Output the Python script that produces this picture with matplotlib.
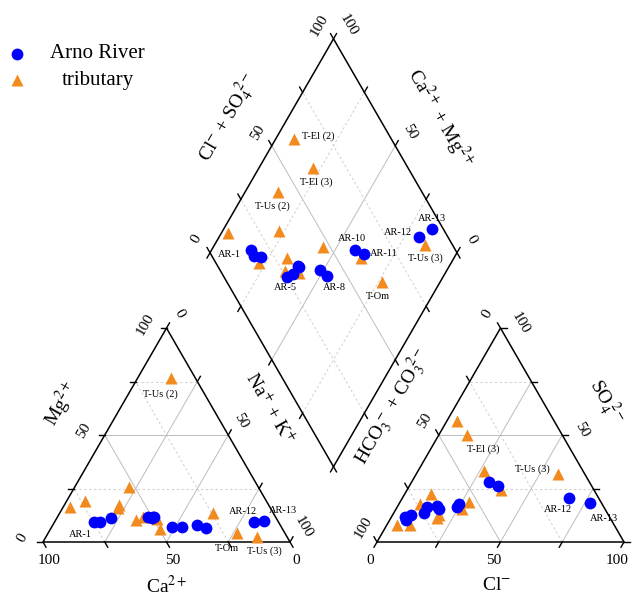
import numpy as np
import matplotlib
matplotlib.use("Agg")
import matplotlib.pyplot as plt

plt.rcParams['font.family'] = ['Liberation Serif', 'DejaVu Serif']
plt.rcParams['mathtext.fontset'] = 'stix'

# ---------------- data (meq %) ----------------
arno_names = ['AR-1', 'AR-2', 'AR-3', 'AR-4', 'AR-5', 'AR-6', 'AR-7', 'AR-8',
              'AR-9', 'AR-10', 'AR-11', 'AR-12', 'AR-13']
arno_ca = [74.5, 72.3, 67.0, 51.5, 50.4, 49.0, 44.3, 40.1, 49.7, 33.9, 30.7, 9.7, 5.5]
arno_mg = [9.5, 9.2, 11.2, 11.6, 11.2, 11.8, 7.2, 6.9, 11.5, 7.8, 6.7, 9.5, 10.0]
arno_nak = [16.0, 18.5, 21.8, 36.9, 38.4, 39.2, 48.5, 53.0, 38.8, 58.3, 62.6, 80.8, 84.5]
arno_hco3 = [82.8, 83.2, 80.1, 74.3, 71.5, 67.3, 59.5, 58.0, 67.2, 40.6, 37.8, 11.9, 4.5]
arno_so4 = [11.8, 10.3, 12.6, 13.4, 16.2, 17.0, 16.5, 17.8, 15.4, 28.2, 26.2, 20.7, 18.4]
arno_cl = [5.4, 6.5, 7.3, 12.3, 12.3, 15.7, 24.0, 24.2, 17.4, 31.2, 36.0, 67.4, 77.1]

trib_names = ['T-El (2)', 'T-El (3)', 'T-Us (2)', 'T-4', 'T-5', 'T-6', 'T-7', 'T-8',
              'T-9', 'T-10', 'T-11', 'T-Om', 'T-Us (3)']
trib_ca = [73.4, 60.4, 10.1, 80.8, 61.6, 52.1, 57.3, 53.8, 48.7, 49.5, 24.3, 19.5, 12.2]
trib_mg = [19.2, 17.4, 76.5, 16.5, 15.8, 25.9, 10.3, 11.6, 10.6, 6.2, 13.4, 4.1, 2.5]
trib_nak = [7.4, 22.2, 13.4, 2.7, 22.6, 22.0, 32.4, 34.6, 40.7, 44.3, 62.3, 76.4, 85.3]
trib_hco3 = [39.4, 38.4, 58.0, 88.1, 67.0, 82.7, 70.0, 73.7, 68.6, 53.2, 40.0, 37.5, 10.9]
trib_so4 = [56.6, 50.0, 15.3, 7.8, 22.3, 7.8, 11.1, 17.8, 12.6, 18.8, 33.3, 24.3, 31.8]
trib_cl = [4.0, 11.6, 26.7, 4.1, 10.7, 9.5, 18.9, 8.5, 18.8, 28.0, 26.7, 38.2, 57.3]

tick_values = [0, 50, 100]

# ---------------- geometry ----------------
S3 = np.sqrt(3) / 2
G = 87 / 247.0            # gap between the triangles
OX = 1 + G                # origin of anion triangle
B = np.array([(2 + G) / 2, G * S3])   # bottom vertex of diamond
U = np.array([-0.5, S3])
V = np.array([0.5, S3])


def cat_xy(ca, mg, nak):
    ca, mg, nak = map(np.asarray, (ca, mg, nak))
    t = ca + mg + nak
    return (nak + 0.5 * mg) / t, S3 * mg / t


def an_xy(hco3, so4, cl):
    hco3, so4, cl = map(np.asarray, (hco3, so4, cl))
    t = hco3 + so4 + cl
    return OX + (cl + 0.5 * so4) / t, S3 * so4 / t


def dia_xy(ca, mg, nak, hco3, so4, cl):
    ca, mg, nak, hco3, so4, cl = map(np.asarray, (ca, mg, nak, hco3, so4, cl))
    c = (ca + mg) / (ca + mg + nak)
    s = (so4 + cl) / (hco3 + so4 + cl)
    return B[0] + c * U[0] + s * V[0], B[1] + c * U[1] + s * V[1]


fig = plt.figure(figsize=(6.4, 5.98), dpi=100)
ax = fig.add_axes([0, 0, 1, 1])
ax.set_xlim(-43 / 247, 597 / 247)
ax.set_ylim(-56 / 247, 542 / 247)
ax.axis('off')

EDGE = dict(color='black', lw=1.1, solid_capstyle='butt', zorder=3)
GS = dict(color='#bdbdbd', lw=0.7, zorder=1)
GD = dict(color='#cfcfcf', lw=0.7, ls=(0, (2.5, 2.5)), zorder=1)
TL = 6 / 247.0


def seg(p, q, **kw):
    ax.plot([p[0], q[0]], [p[1], q[1]], **kw)


# outlines
P0, P1, P2 = np.array([0, 0]), np.array([1, 0]), np.array([0.5, S3])
Q0, Q1, Q2 = np.array([OX, 0]), np.array([OX + 1, 0]), np.array([OX + 0.5, S3])
L, R, T = B + U, B + V, B + U + V
for a, b in [(P0, P1), (P1, P2), (P2, P0), (Q0, Q1), (Q1, Q2), (Q2, Q0),
             (B, L), (L, T), (T, R), (R, B)]:
    seg(a, b, **EDGE)

# grids
for f in [0.25, 0.5, 0.75]:
    st = GS if f == 0.5 else GD
    # cation
    seg((0.5 * f, S3 * f), (1 - 0.5 * f, S3 * f), **st)
    seg((1 - f, 0), (0.5 * (1 - f), S3 * (1 - f)), **st)
    seg((f, 0), (f + 0.5 * (1 - f), S3 * (1 - f)), **GS)
    # anion
    seg((OX + 0.5 * f, S3 * f), (OX + 1 - 0.5 * f, S3 * f), **st)
    seg((OX + f, 0), (OX + f + 0.5 * (1 - f), S3 * (1 - f)), **GS)
    seg((OX + 1 - f, 0), (OX + 0.5 * (1 - f), S3 * (1 - f)), **st)
    # diamond
    seg(B + f * U, B + f * U + V, **st)
    seg(B + f * V, B + f * V + U, **st)

# ticks
for f in [0, 0.25, 0.5, 0.75, 1.0]:
    ticks = [
        (np.array([f, 0]), np.array([0.5, -S3])),
        (np.array([0.5 * f, S3 * f]), np.array([-1, 0])),
        (np.array([0.5 + 0.5 * f, S3 * (1 - f)]), np.array([0.5, S3])),
        (np.array([OX + f, 0]), np.array([-0.5, -S3])),
        (np.array([OX + 1 - 0.5 * f, S3 * f]), np.array([1, 0])),
        (np.array([OX + 0.5 * (1 - f), S3 * (1 - f)]), np.array([-0.5, S3])),
        (B + U + f * V, U),
        (B + f * U + V, V),
        (B + f * U, -V),
        (B + f * V, -U),
    ]
    for p, d in ticks:
        seg(p, p + TL * d, color='black', lw=1.0, zorder=3)

PX = 0.72  # points per pixel


def lab(x, y, dx, dy, s, size=11, rot=0):
    ax.annotate(s, (x, y), xytext=(dx * PX, -dy * PX), textcoords='offset points',
                ha='center', va='center', fontsize=size, rotation=rot,
                rotation_mode='anchor', zorder=5)


for v in tick_values:
    f = v / 100.0
    # cation bottom (Ca: 100 at left)
    lab(1 - f, 0, 6.5, 18, str(v))
    # cation left (Mg)
    lab(0.5 * f, S3 * f, -21, -4, str(v), rot=60)
    # cation right (Na+K, 0 at apex)
    lab(0.5 + 0.5 * f, S3 * (1 - f), 13, -14.5, str(v), rot=-60)
    # anion bottom (Cl)
    lab(OX + f, 0, -6.5, 19, str(v))
    # anion left (HCO3, 0 at apex)
    lab(OX + 0.5 * (1 - f), S3 * (1 - f), -13.5, -14.5, str(v), rot=60)
    # anion right (SO4)
    if v > 0:
        lab(OX + 1 - 0.5 * f, S3 * f, 19.5, -5, str(v), rot=-60)
    # diamond upper-left (Cl+SO4)
    p = B + U + f * V
    lab(p[0], p[1], -14, -13.5, str(v), rot=60)
    # diamond upper-right (Ca+Mg, 100 at top)
    p = B + f * U + V
    lab(p[0], p[1], 14.5, -13.5, str(v), rot=-60)


def pix(px, py):
    return (px - 43) / 247.0, (542 - py) / 247.0


def title(px, py, s, rot=0, size=14):
    x, y = pix(px, py)
    ax.text(x, y, s, ha='center', va='center', rotation=rot, fontsize=size,
            rotation_mode='anchor', zorder=5)


title(167, 586, r'Ca$^{2+}$')
title(497, 586, r'Cl$^{-}$')
title(61, 404, r'Mg$^{2+}$', rot=60)
title(270, 408, r'Na$^{+}$ + K$^{+}$', rot=-60)
title(606, 402, r'SO$_{4}^{\ 2-}$', rot=-60)
title(393, 407, r'HCO$_{3}^{\ -}$ + CO$_{3}^{\ 2-}$', rot=60)
title(228, 118, r'Cl$^{-}$ + SO$_{4}^{\ 2-}$', rot=60)
title(440, 118, r'Ca$^{2+}$ + Mg$^{2+}$', rot=-60)

BLUE = '#0000ff'
ORANGE = '#f28a1e'
MS_C, MS_T = 8.5, 9.0

# data points
cx, cy = cat_xy(trib_ca, trib_mg, trib_nak)
ax.plot(cx, cy, '^', color=ORANGE, ms=MS_T, mec='none', zorder=4, ls='none')
ax_, ay_ = an_xy(trib_hco3, trib_so4, trib_cl)
ax.plot(ax_, ay_, '^', color=ORANGE, ms=MS_T, mec='none', zorder=4, ls='none')
dx_, dy_ = dia_xy(trib_ca, trib_mg, trib_nak, trib_hco3, trib_so4, trib_cl)
ax.plot(dx_, dy_, '^', color=ORANGE, ms=MS_T, mec='none', zorder=4, ls='none')

bcx, bcy = cat_xy(arno_ca, arno_mg, arno_nak)
ax.plot(bcx, bcy, 'o', color=BLUE, ms=MS_C, mec='none', zorder=4, ls='none')
bax, bay = an_xy(arno_hco3, arno_so4, arno_cl)
ax.plot(bax, bay, 'o', color=BLUE, ms=MS_C, mec='none', zorder=4, ls='none')
bdx, bdy = dia_xy(arno_ca, arno_mg, arno_nak, arno_hco3, arno_so4, arno_cl)
ax.plot(bdx, bdy, 'o', color=BLUE, ms=MS_C, mec='none', zorder=4, ls='none')

# sample labels: (name, plot, dx_px, dy_px)
label_pos = [
    ('AR-1', 'cat', -14, 13), ('T-Us (2)', 'cat', -10, 16), ('AR-12', 'cat', -11, -10),
    ('AR-13', 'cat', 19, -10), ('T-Om', 'cat', -10, 15), ('T-Us (3)', 'cat', 8, 15),
    ('T-El (3)', 'an', 16, 14), ('T-Us (3)', 'an', -25, -5), ('AR-12', 'an', -11, 12),
    ('AR-13', 'an', 14, 16),
    ('T-El (2)', 'dia', 24, -3), ('T-El (3)', 'dia', 3, 14), ('T-Us (2)', 'dia', -6, 15),
    ('AR-1', 'dia', -22, 4), ('AR-5', 'dia', -7, 14), ('AR-8', 'dia', 7, 11),
    ('AR-10', 'dia', -3, -12), ('AR-11', 'dia', 20, 0), ('AR-12', 'dia', -21, -5),
    ('AR-13', 'dia', 0, -11), ('T-Us (3)', 'dia', 0, 14), ('T-Om', 'dia', -4, 14),
]
coords = {
    'cat': ({n: (x, y) for n, x, y in zip(arno_names, bcx, bcy)} |
            {n: (x, y) for n, x, y in zip(trib_names, cx, cy)}),
    'an': ({n: (x, y) for n, x, y in zip(arno_names, bax, bay)} |
           {n: (x, y) for n, x, y in zip(trib_names, ax_, ay_)}),
    'dia': ({n: (x, y) for n, x, y in zip(arno_names, bdx, bdy)} |
            {n: (x, y) for n, x, y in zip(trib_names, dx_, dy_)}),
}
for name, where, ddx, ddy in label_pos:
    x, y = coords[where][name]
    ax.annotate(name, (x, y), xytext=(ddx * PX, -ddy * PX), textcoords='offset points',
                ha='center', va='center', fontsize=7.5, zorder=6)

# legend
lx, ly = pix(17, 54)
ax.plot([lx], [ly], 'o', color=BLUE, ms=MS_C, mec='none', ls='none')
lx, ly = pix(17, 80)
ax.plot([lx], [ly], '^', color=ORANGE, ms=MS_T, mec='none', ls='none')
tx, ty = pix(97, 53)
ax.text(tx, ty, 'Arno River', ha='center', va='center', fontsize=15)
tx, ty = pix(98, 80)
ax.text(tx, ty, 'tributary', ha='center', va='center', fontsize=15)

fig.savefig('out.png', dpi=100)
